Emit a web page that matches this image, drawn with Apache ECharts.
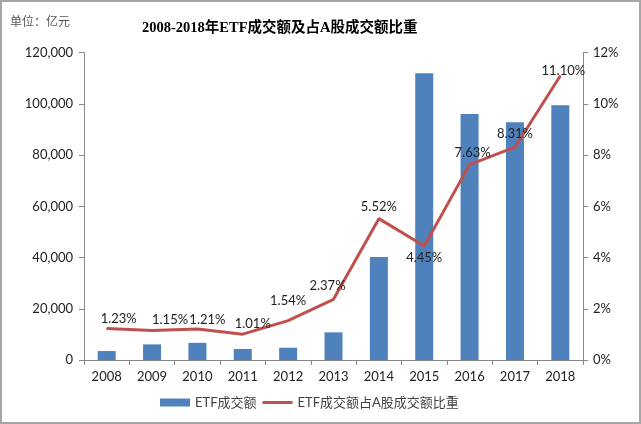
<!DOCTYPE html>
<html><head><meta charset="utf-8">
<script src="https://cdn.jsdelivr.net/npm/echarts@6/dist/echarts.min.js"></script>
<style>
html,body{margin:0;padding:0;background:#fff;}
#wrap{width:641px;height:424px;box-sizing:border-box;border:2px solid #a6a6a6;position:relative;overflow:hidden;}
#c{position:absolute;left:-2px;top:-2px;width:641px;height:424px;}
</style></head>
<body><div id="wrap"><div id="c"></div></div>
<script>
var years = ['2008','2009','2010','2011','2012','2013','2014','2015','2016','2017','2018'];
var etfVolume = [3500, 6100, 6700, 4300, 4800, 10800, 40200, 112000, 96100, 92800, 99500];
var etfShare = [1.23, 1.15, 1.21, 1.01, 1.54, 2.37, 5.52, 4.45, 7.63, 8.31, 11.10];
var leftTicks = {min: 0, max: 120000, interval: 20000};
var rightTicks = {min: 0, max: 12, interval: 2};

// label placement tweaks (style only)
var labelOffsets = [[12,2],[18,1.5],[10,2.5],[10,1.5],[0,-7.5],[-6,-1.5],[0,0],[0,0],[3,0],[0,-1],[3,7.5]];
var labelBelow = [false,false,false,false,false,false,false,true,false,false,false];

var font = 'Lato, "Noto Sans CJK SC", sans-serif';
var axisGray = '#868686';
var chart = echarts.init(document.getElementById('c'));
chart.setOption({
  animation: false,
  textStyle: {fontFamily: font},
  title: {
    text: '2008-2018年ETF成交额及占A股成交额比重',
    left: 137, top: 16,
    textStyle: {fontFamily: '"Liberation Serif", "Noto Sans CJK SC", serif', fontWeight: 'bold', fontSize: 14.5, color: '#000'}
  },
  graphic: [{
    type: 'text', left: 10, top: 15,
    style: {text: '单位：亿元', fontSize: 12, fill: '#555', fontFamily: '"Noto Sans CJK SC", serif'}
  }],
  legend: {
    left: 155, top: 391, itemWidth: 30, itemHeight: 8, itemGap: 6,
    textStyle: {fontSize: 13, color: '#404040', fontFamily: font},
    data: [
      {name: 'ETF成交额', icon: 'rect'},
      {name: 'ETF成交额占A股成交额比重', icon: 'path://M0,0 L0.01,0 L0.01,0.01 Z M0,2.5 L30,2.5 L30,5.5 L0,5.5 Z M0,8 L0.01,8 L0.01,7.99 Z'}
    ]
  },
  grid: {left: 84, right: 58, top: 52.7, bottom: 64},
  xAxis: {
    type: 'category', data: years,
    axisLine: {lineStyle: {color: axisGray}},
    axisTick: {show: true, length: 5, alignWithLabel: false, lineStyle: {color: axisGray}},
    axisLabel: {fontSize: 13, color: '#222', margin: 10}
  },
  yAxis: [{
    type: 'value', min: leftTicks.min, max: leftTicks.max, interval: leftTicks.interval,
    axisLine: {show: true, lineStyle: {color: axisGray}},
    axisTick: {show: true, length: 5, lineStyle: {color: axisGray}},
    splitLine: {show: false},
    axisLabel: {fontSize: 13, color: '#222', margin: 11,
      formatter: function (v) { return v.toLocaleString('en-US'); }}
  }, {
    type: 'value', min: rightTicks.min, max: rightTicks.max, interval: rightTicks.interval,
    position: 'right',
    axisLine: {show: true, lineStyle: {color: axisGray}},
    axisTick: {show: true, length: 5, lineStyle: {color: axisGray}},
    splitLine: {show: false},
    axisLabel: {fontSize: 13, color: '#222', margin: 10, formatter: '{value}%'}
  }],
  series: [{
    name: 'ETF成交额', type: 'bar', data: etfVolume, barWidth: 18,
    itemStyle: {color: '#4F81BD'}
  }, {
    name: 'ETF成交额占A股成交额比重', type: 'line', yAxisIndex: 1,
    symbol: 'circle', symbolSize: 1,
    itemStyle: {color: '#C0504D'},
    lineStyle: {color: '#C0504D', width: 3},
    data: etfShare.map(function (v, i) {
      return {value: v, label: {position: labelBelow[i] ? 'bottom' : 'top', offset: labelOffsets[i]}};
    }),
    label: {show: true, fontSize: 13, color: '#222', distance: 5,
      formatter: function (p) { return p.value.toFixed(2) + '%'; }},
    z: 3
  }]
});
</script></body></html>
